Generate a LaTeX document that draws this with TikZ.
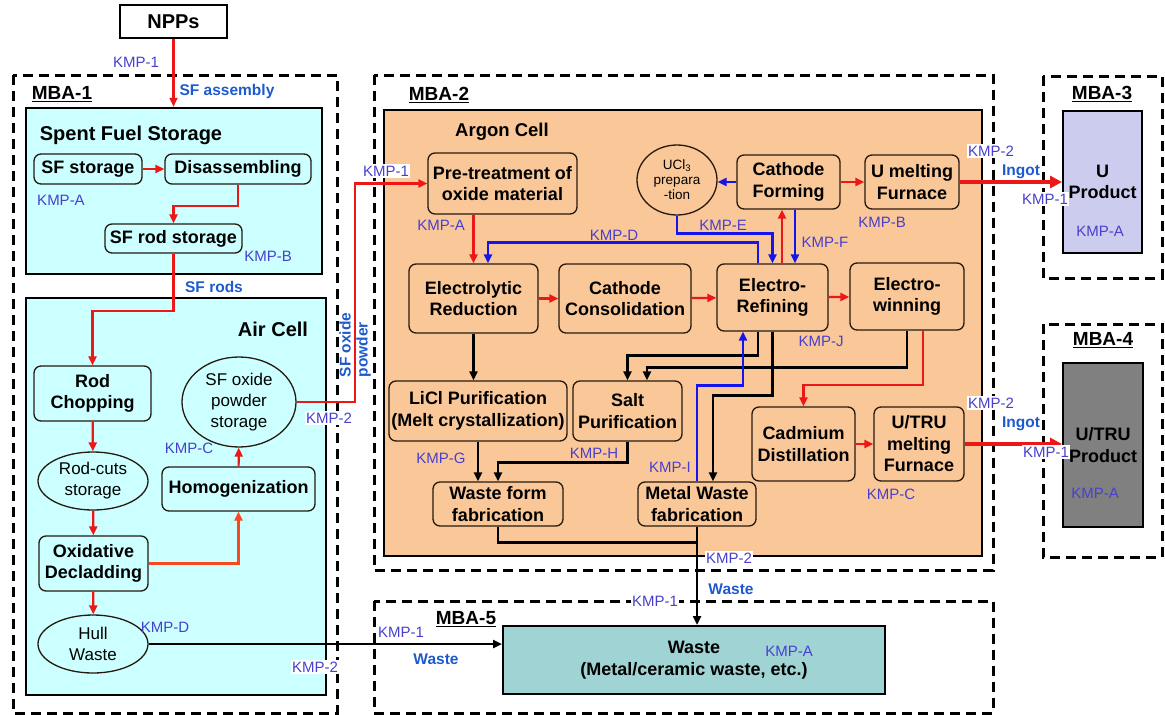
\documentclass[tikz,border=0pt]{standalone}
\usepackage{fontspec}
\setmainfont{Liberation Sans}
\usetikzlibrary{positioning}
\usetikzlibrary{arrows.meta}
\usetikzlibrary{shapes.geometric}

\definecolor{kmpblue}{RGB}{72,64,205}
\definecolor{flowblue}{RGB}{30,90,205}
\definecolor{redline}{RGB}{236,24,24}
\definecolor{orangeline}{RGB}{248,72,32}
\definecolor{blueline}{RGB}{20,20,235}
\definecolor{cellcyan}{RGB}{204,255,255}
\definecolor{argonfill}{RGB}{250,200,152}
\definecolor{uprodfill}{RGB}{204,204,238}
\definecolor{utrufill}{RGB}{128,128,128}
\definecolor{wastefill}{RGB}{160,212,212}

\newcommand{\stepfont}{\bfseries\fontsize{18}{21.5}\selectfont}
\newcommand{\storefont}{\fontsize{17}{21}\selectfont}
\newcommand{\kmpfont}{\fontsize{15}{16}\selectfont}
\newcommand{\flowfont}{\bfseries\fontsize{15.5}{17}\selectfont}
\newcommand{\mbafont}{\bfseries\fontsize{19}{20}\selectfont}
\newcommand{\titlefont}{\bfseries\fontsize{20}{22}\selectfont}

\tikzset{
        % Process steps
        node_step/.style={draw=black!80!brown, line width=1.3pt, rounded corners=7pt, align=center, font=\stepfont, inner sep=0pt},
        % Storage ellipses
        node_store/.style={ellipse, draw=black!80!brown, line width=1.3pt, align=center, font=\storefont, inner sep=0pt},
        % Product and waste boxes
        node_prod/.style={draw, line width=2pt, align=center, font=\stepfont, inner sep=0pt},
        % Cells
        cell_box/.style={draw, line width=2.5pt, inner sep=0pt},
        node_title/.style={font=\titlefont, inner sep=0pt},
        % MBA areas
        mba_box/.style={draw, line width=3pt, dash pattern=on 10pt off 6pt},
        node_mba/.style={font=\mbafont, inner sep=0pt},
        % KMP labels
        node_kmp/.style={text=kmpblue, font=\kmpfont, inner sep=1.5pt},
        node_kmp_white/.style={node_kmp, fill=white},
        % Flow labels
        node_flow/.style={text=flowblue, font=\flowfont, inner sep=1pt},
        % Connectors
        line_red/.style={draw=redline, line width=2.2pt},
        arr_red/.style={line_red, -{Triangle[length=9pt,width=8pt]}},
        arr_thick/.style={draw=redline, line width=4pt, -{Triangle[length=12pt,width=12pt]}},
        arr_blue/.style={draw=blueline, line width=2.5pt, -{Triangle[length=9pt,width=8pt]}},
        line_black/.style={draw=black, line width=2.5pt},
        arr_black/.style={line_black, -{Triangle[length=9pt,width=8pt]}}
}

\begin{document}
\begin{tikzpicture}[x=1pt, y=-1pt]
\useasboundingbox (0,0) rectangle (1165,715);

% MBA areas
\draw[mba_box] (13,75) rectangle (337,713);
\draw[mba_box] (374,75) rectangle (993,570);
\draw[mba_box] (1043,76) rectangle (1162,278);
\draw[mba_box] (1043,324) rectangle (1162,557);
\draw[mba_box] (374,601) rectangle (993,713);
\node[node_mba] (mba_1) at (62,94) {\underline{MBA-1}};
\node[node_mba] (mba_2) at (439,95) {\underline{MBA-2}};
\node[node_mba] (mba_3) at (1102,94) {\underline{MBA-3}};
\node[node_mba] (mba_4) at (1103,340) {\underline{MBA-4}};
\node[node_mba] (mba_5) at (466,619) {\underline{MBA-5}};

% Cells
\node[cell_box, fill=cellcyan, minimum width=296pt, minimum height=166pt] (sfs) at (174,191) {};
\node[cell_box, fill=cellcyan, minimum width=300pt, minimum height=397pt] (air) at (176,496.5) {};
\node[cell_box, fill=argonfill, minimum width=598pt, minimum height=446pt] (argon) at (683,333) {};
\node[node_title] (sfs_title) at (131,135) {Spent Fuel Storage};
\node[node_title] (air_title) at (273,329) {Air Cell};
\node[node_title, font=\bfseries\fontsize{18.5}{21}\selectfont] (argon_title) at (502,132) {Argon Cell};

\node[draw, line width=1.3pt, minimum width=107pt, minimum height=33pt, font=\titlefont] (npp) at (173.5,21.5) {NPPs};

% MBA-1
\node[node_step, minimum width=108pt, minimum height=30pt] (sf_stor) at (88,169) {SF storage};
\node[node_step, minimum width=146pt, minimum height=30pt] (disasm) at (238,169) {Disassembling};
\node[node_step, minimum width=137pt, minimum height=29pt] (rod_stor) at (173.5,238.5) {SF rod storage};
\node[node_step, minimum width=117pt, minimum height=55pt] (chop) at (92.5,393.5) {Rod\\Chopping};
\node[node_store, minimum width=110pt, minimum height=58pt] (rod_cuts) at (93,481) {Rod-cuts\\storage};
\node[node_step, minimum width=109pt, minimum height=55pt] (oxid) at (93.5,563.5) {Oxidative\\Decladding};
\node[node_store, minimum width=110pt, minimum height=58pt] (hull) at (93,644) {Hull\\Waste};
\node[node_step, minimum width=153pt, minimum height=44pt] (homog) at (238.5,489) {Homogenization};
\node[node_store, minimum width=114pt, minimum height=90pt] (sf_oxide) at (239,402) {SF oxide\\powder\\storage};

% MBA-2
\node[node_step, minimum width=149pt, minimum height=61pt] (pretreat) at (502.5,183.5) {Pre-treatment of\\oxide material};
\node[node_step, minimum width=129pt, minimum height=69pt] (el_red) at (473.5,298.5) {Electrolytic\\Reduction};
\node[node_step, minimum width=132pt, minimum height=69pt] (cath_cons) at (625,298.5) {Cathode\\Consolidation};
\node[node_step, minimum width=111pt, minimum height=67pt] (el_ref) at (772.5,297.5) {Electro-\\Refining};
\node[node_step, minimum width=114pt, minimum height=67pt] (el_win) at (907,296.5) {Electro-\\winning};
\node[node_step, minimum width=103pt, minimum height=54pt] (cath_form) at (788.5,182) {Cathode\\Forming};
\node[node_step, minimum width=94pt, minimum height=54pt] (u_melt) at (912,182) {U melting\\Furnace};
\node[node_store, minimum width=80pt, minimum height=70pt, font=\fontsize{13.5}{15}\selectfont] (ucl) at (677,180) {UCl\textsubscript{3}\\prepara\\-tion};
\node[node_step, minimum width=178pt, minimum height=60pt] (licl) at (478,411) {LiCl Purification\\(Melt crystallization)};
\node[node_step, minimum width=109pt, minimum height=60pt] (salt) at (627.5,411) {Salt\\Purification};
\node[node_step, minimum width=130pt, minimum height=44pt] (waste_form) at (498,504) {Waste form\\fabrication};
\node[node_step, minimum width=118pt, minimum height=44pt] (metal_waste) at (697,504) {Metal Waste\\fabrication};
\node[node_step, minimum width=103pt, minimum height=74pt] (cadmium) at (803.5,444) {Cadmium\\Distillation};
\node[node_step, minimum width=90pt, minimum height=74pt] (utru_melt) at (919,444) {U/TRU\\melting\\Furnace};

% MBA-3, MBA-4, MBA-5
\node[node_prod, fill=uprodfill, minimum width=79pt, minimum height=142pt] (u_prod) at (1102.5,182) {U\\Product};
\node[node_prod, fill=utrufill, minimum width=80pt, minimum height=164pt] (utru_prod) at (1103,445) {U/TRU\\Product};
\node[node_prod, fill=wastefill, minimum width=382pt, minimum height=68pt] (waste) at (694,660) {Waste\\(Metal/ceramic waste, etc.)};

% Flows in MBA-1
\draw[arr_red] (npp.south) -- (npp.south |- sfs.north);
\draw[arr_red] (sf_stor) -- (disasm);
\draw[arr_red] (disasm.south) -- ++(0,21) -| (rod_stor.north);
\draw[arr_red] (rod_stor.south) -- ++(0,57) -| (chop.north);
\draw[arr_red] (chop) -- (rod_cuts);
\draw[arr_red] (rod_cuts) -- (oxid);
\draw[arr_red] (oxid) -- (hull);
\draw[arr_red, draw=orangeline] (oxid.east) -| (homog.south);
\draw[arr_red] (homog) -- (sf_oxide);
\draw[arr_red] (sf_oxide.east) -- ++(58,0) |- (pretreat.west);
\draw[arr_black] (hull.east) -- (hull.east -| waste.west);

% Flows in MBA-2
\draw[arr_red] (el_red.north |- pretreat.south) -- (el_red.north);
\draw[arr_red] (el_red) -- (cath_cons);
\draw[arr_red] (cath_cons) -- (el_ref);
\draw[arr_red] (el_ref) -- (el_win);
\draw[arr_blue] ([xshift=-14.5pt]el_ref.north) -- ++(0,-21) -| ([xshift=14.5pt]el_red.north);
\draw[arr_blue] (ucl.south) -- ++(0,18) -| (el_ref.north);
\draw[arr_red] ([xshift=-6.5pt]cath_form.south |- el_ref.north) -- ([xshift=-6.5pt]cath_form.south);
\draw[arr_blue] ([xshift=6.5pt]cath_form.south) -- ([xshift=6.5pt]cath_form.south |- el_ref.north);
\draw[arr_blue] (cath_form.west) -- (cath_form.west -| ucl.east);
\draw[arr_red] (cath_form) -- (u_melt);
\draw[arr_thick] (u_melt.east) -- (u_melt.east -| u_prod.west);
\draw[arr_red] ([xshift=16pt]el_win.south) -- ++(0,54) -| (cadmium.north);
\draw[arr_red] (cadmium) -- (utru_melt);
\draw[arr_thick] (utru_melt.east) -- (utru_melt.east -| utru_prod.west);
\draw[arr_black] (el_red.south) -- (el_red.south |- licl.north);
\draw[arr_black] ([xshift=-14.5pt]el_ref.south) -- ++(0,24) -| (salt.north);
\draw[arr_black] (el_win.south) -- ++(0,37) -| ([xshift=19.5pt]salt.north);
\draw[arr_black] (el_ref.south) -- ++(0,64) -| ([xshift=16pt]metal_waste.north);
\draw[arr_blue] (metal_waste.north) -- ++(0,-96) -| ([xshift=-29.5pt]el_ref.south);
\draw[arr_black] (licl.south) -- (licl.south |- waste_form.north);
\draw[arr_black] (salt.south) -- ++(0,21) -| (waste_form.north);
\draw[line_black] (waste_form.south) -- ++(0,16) -| (metal_waste.south);
\draw[arr_black] (metal_waste.south) -- (metal_waste.south |- waste.north);

% KMP and flow labels
\node[node_kmp] (kmp_npp) at (136,62) {KMP-1};
\node[node_flow] (lbl_assembly) at (227,91) {SF assembly};
\node[node_kmp] (kmp_1a) at (61,200) {KMP-A};
\node[node_kmp] (kmp_1b) at (268,256) {KMP-B};
\node[node_flow] (lbl_rods) at (214,287) {SF rods};
\node[node_kmp] (kmp_1c) at (189,448) {KMP-C};
\node[node_kmp] (kmp_1d) at (165,627) {KMP-D};
\node[node_kmp_white] (kmp_1out) at (329,418) {KMP-2};
\node[node_kmp_white] (kmp_1hull) at (315,667) {KMP-2};
\node[node_flow, rotate=90, align=left] (lbl_powder) at (355,345) {SF oxide\\powder};
\node[node_kmp_white] (kmp_2in) at (386,171) {KMP-1};
\node[node_kmp] (kmp_2a) at (441,225) {KMP-A};
\node[node_kmp] (kmp_2d) at (614,235) {KMP-D};
\node[node_kmp] (kmp_2e) at (723,225) {KMP-E};
\node[node_kmp] (kmp_2f) at (825,242) {KMP-F};
\node[node_kmp] (kmp_2b) at (882,222) {KMP-B};
\node[node_kmp] (kmp_2j) at (821,341) {KMP-J};
\node[node_kmp] (kmp_2g) at (441,458) {KMP-G};
\node[node_kmp] (kmp_2h) at (594,453) {KMP-H};
\node[node_kmp] (kmp_2i) at (670,467) {KMP-I};
\node[node_kmp] (kmp_2c) at (891,494) {KMP-C};
\node[node_kmp_white] (kmp_2out) at (729,558) {KMP-2};
\node[node_flow] (lbl_waste_2) at (731,589) {Waste};
\node[node_kmp_white] (kmp_5top) at (655,601) {KMP-1};
\node[node_kmp] (kmp_5left) at (401,632) {KMP-1};
\node[node_flow] (lbl_waste_1) at (436,659) {Waste};
\node[node_kmp] (kmp_5a) at (789,651) {KMP-A};
\node[node_kmp_white] (kmp_2u) at (991,151) {KMP-2};
\node[node_flow] (lbl_ingot_u) at (1021,172) {Ingot};
\node[node_kmp_white] (kmp_3in) at (1045,199) {KMP-1};
\node[node_kmp] (kmp_3a) at (1100,231) {KMP-A};
\node[node_kmp_white] (kmp_2utru) at (991,403) {KMP-2};
\node[node_flow] (lbl_ingot_utru) at (1021,424) {Ingot};
\node[node_kmp_white] (kmp_4in) at (1046,452) {KMP-1};
\node[node_kmp] (kmp_4a) at (1095,493) {KMP-A};
\end{tikzpicture}
\end{document}
